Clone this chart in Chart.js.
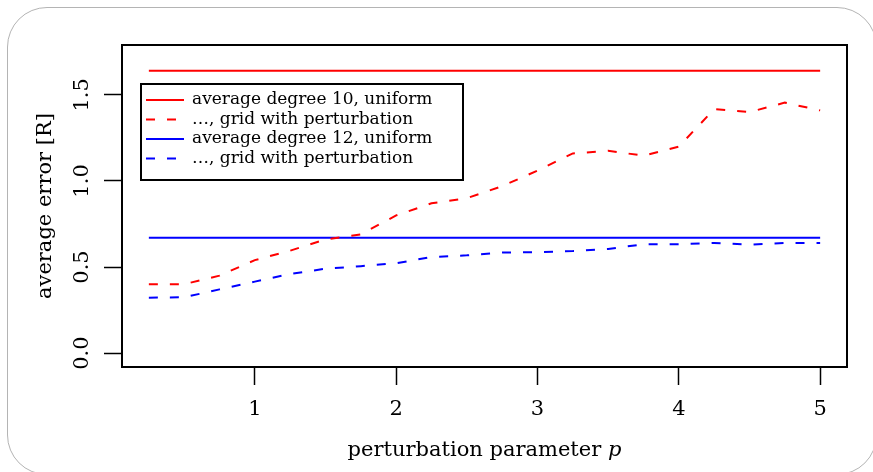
<!DOCTYPE html>
<html><head><meta charset="utf-8">
<script src="https://cdn.jsdelivr.net/npm/chart.js@4.4.1/dist/chart.umd.min.js"></script>
<style>
html,body{margin:0;padding:0;background:#fff;}
#wrap{position:relative;width:873px;height:472px;overflow:hidden;background:#fff;}
#frame{position:absolute;left:7px;top:7px;width:868px;height:466px;border:1px solid #b4b4b4;border-radius:40px;}
canvas{position:absolute;left:0;top:0;}
</style></head>
<body><div id="wrap"><div id="frame"></div><canvas id="c" width="873" height="472"></canvas></div>
<script>
// ---- data ----
const pValues = [0.25, 0.5, 0.75, 1.0, 1.25, 1.5, 1.75, 2.0, 2.25, 2.5, 2.75, 3.0, 3.25, 3.5, 3.75, 4.0, 4.25, 4.5, 4.75, 5.0];
const gridPert10 = [0.40, 0.40, 0.45, 0.54, 0.595, 0.66, 0.69, 0.80, 0.87, 0.90, 0.97, 1.06, 1.16, 1.175, 1.147, 1.20, 1.417, 1.40, 1.455, 1.41];
const gridPert12 = [0.322, 0.324, 0.37, 0.415, 0.46, 0.49, 0.505, 0.522, 0.558, 0.568, 0.584, 0.586, 0.593, 0.605, 0.632, 0.632, 0.64, 0.63, 0.64, 0.64];
const uniformP = [0.25, 5.0];
const uniform10 = [1.64, 1.64];
const uniform12 = [0.67, 0.67];
const seriesLabels = ["average degree 10, uniform", "\u2026, grid with perturbation", "average degree 12, uniform", "\u2026, grid with perturbation"];
const xTitleMain = "perturbation parameter ";
const xTitleVar = "p";
const yTitle = "average error [R]";

const FONT = "'DejaVu Serif', serif";
const RED = '#ff0000', BLUE = '#0000ff';
const DASH = [9, 12];

const toPts = (xs, ys) => xs.map((v, i) => ({x: v, y: ys[i]}));

const extras = {
  id: 'extras',
  afterDraw(chart) {
    const {ctx, chartArea: a, scales: {x, y}} = chart;
    ctx.save();
    ctx.setLineDash([]);
    ctx.strokeStyle = '#000';
    ctx.lineWidth = 2;
    ctx.strokeRect(a.left, a.top, a.right - a.left, a.bottom - a.top);

    // rotated y tick labels
    ctx.fillStyle = '#000';
    ctx.font = '21px ' + FONT;
    ctx.textAlign = 'center';
    ctx.textBaseline = 'middle';
    y.ticks.forEach(t => {
      const py = y.getPixelForValue(t.value);
      ctx.save();
      ctx.translate(a.left - 39, py);
      ctx.rotate(-Math.PI / 2);
      ctx.fillText(t.value.toFixed(1), 0, 0);
      ctx.restore();
    });

    // x title with italic p
    ctx.font = '21px ' + FONT;
    const w1 = ctx.measureText(xTitleMain).width;
    ctx.font = 'italic 21px ' + FONT;
    const w2 = ctx.measureText(xTitleVar).width;
    const cx = (a.left + a.right) / 2;
    const sx = cx - (w1 + w2) / 2;
    const ty = 451;
    ctx.textAlign = 'left';
    ctx.font = '21px ' + FONT;
    ctx.fillText(xTitleMain, sx, ty);
    ctx.font = 'italic 21px ' + FONT;
    ctx.fillText(xTitleVar, sx + w1, ty);

    // legend
    const lx = a.left + 19, ly = a.top + 39, lw = 322, lh = 96;
    ctx.fillStyle = '#fff';
    ctx.fillRect(lx, ly, lw, lh);
    ctx.strokeStyle = '#000';
    ctx.lineWidth = 2;
    ctx.strokeRect(lx, ly, lw, lh);
    ctx.font = '17px ' + FONT;
    ctx.textBaseline = 'middle';
    ctx.textAlign = 'left';
    chart.data.datasets.forEach((ds, i) => {
      const rowY = ly + 16 + i * 19.5;
      ctx.beginPath();
      ctx.strokeStyle = ds.borderColor;
      ctx.lineWidth = 2;
      ctx.setLineDash(ds.borderDash || []);
      ctx.moveTo(lx + 5, rowY);
      ctx.lineTo(lx + 43, rowY);
      ctx.stroke();
      ctx.setLineDash([]);
      ctx.fillStyle = '#000';
      ctx.fillText(ds.label, lx + 51, rowY);
    });
    ctx.restore();
  }
};

new Chart(document.getElementById('c'), {
  type: 'line',
  data: {
    datasets: [
      {label: seriesLabels[0], data: toPts(uniformP, uniform10), borderColor: RED, borderWidth: 2, pointRadius: 0, tension: 0},
      {label: seriesLabels[1], data: toPts(pValues, gridPert10), borderColor: RED, borderWidth: 2, borderDash: DASH, pointRadius: 0, tension: 0},
      {label: seriesLabels[2], data: toPts(uniformP, uniform12), borderColor: BLUE, borderWidth: 2, pointRadius: 0, tension: 0},
      {label: seriesLabels[3], data: toPts(pValues, gridPert12), borderColor: BLUE, borderWidth: 2, borderDash: DASH, pointRadius: 0, tension: 0}
    ]
  },
  options: {
    responsive: false,
    animation: false,
    devicePixelRatio: 1,
    layout: {padding: {top: 45, right: 26, left: 0, bottom: 0}},
    plugins: {legend: {display: false}, tooltip: {enabled: false}},
    scales: {
      x: {
        type: 'linear',
        min: 0.06, max: 5.19,
        border: {display: false},
        grid: {drawOnChartArea: false, drawTicks: true, tickLength: 18, tickColor: '#000', tickWidth: 1.5},
        ticks: {stepSize: 1, includeBounds: false, color: '#000', padding: 12, font: {family: FONT, size: 21}, maxRotation: 0},
        afterFit: s => { s.height = 105; }
      },
      y: {
        min: -0.081, max: 1.79,
        border: {display: false},
        grid: {drawOnChartArea: false, drawTicks: true, tickLength: 18, tickColor: '#000', tickWidth: 1.5},
        ticks: {stepSize: 0.5, includeBounds: false, display: false},
        title: {display: true, text: yTitle, color: '#000', font: {family: FONT, size: 21}, padding: {top: 33, bottom: 0}},
        afterFit: s => { s.width = 122; }
      }
    }
  },
  plugins: [extras]
});
</script>
</body></html>
